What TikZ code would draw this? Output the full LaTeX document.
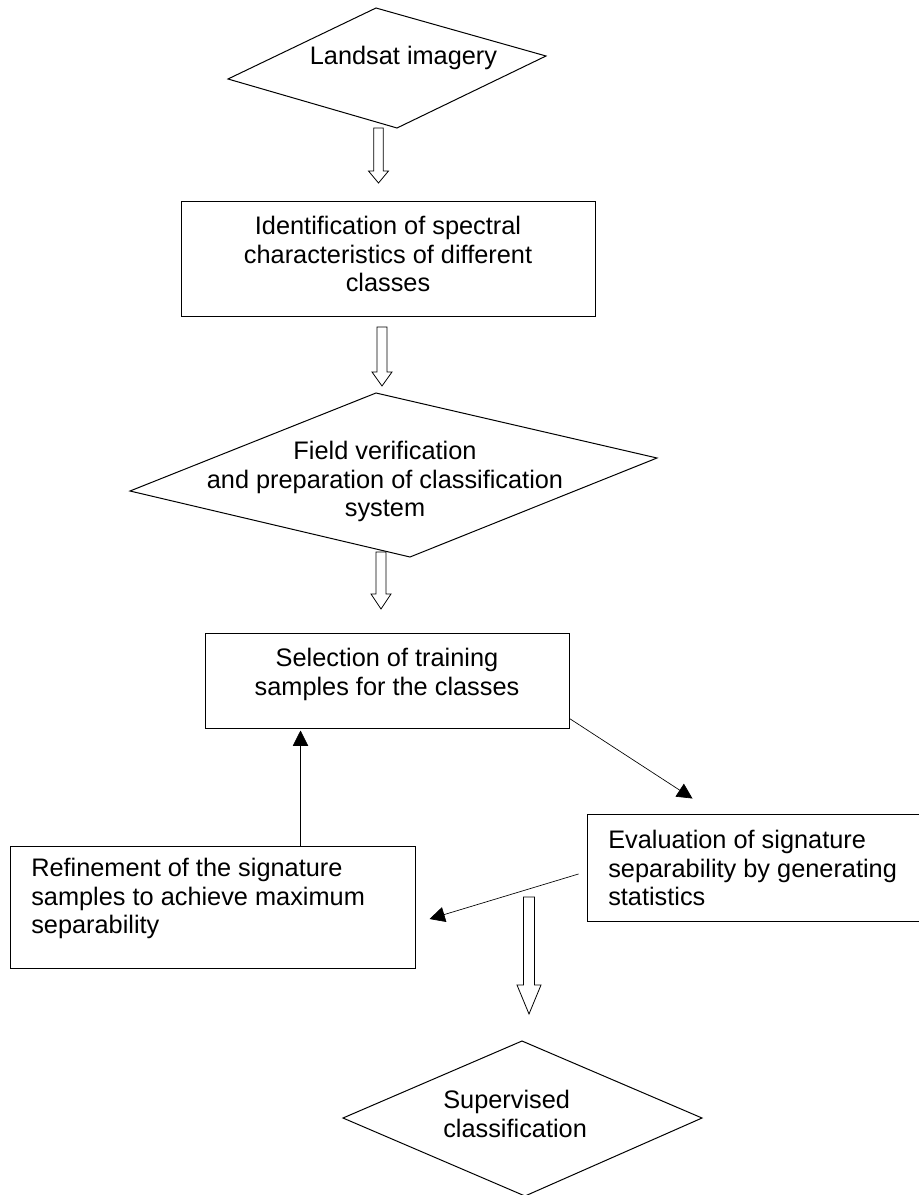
\documentclass[tikz,border=0pt]{standalone}
\usepackage{fontspec}
\setmainfont{Liberation Sans}
\usetikzlibrary{arrows.meta,calc,fit}

% block arrow pointing down: centre x, shaft top, head start, tip, shaft half width, head half width
\newcommand\hollowdown[6]{%
  \draw[hollow] (#1-#5,#2) -- (#1+#5,#2) -- (#1+#5,#3) -- (#1+#6,#3) -- (#1,#4)
    -- (#1-#6,#3) -- (#1-#5,#3) -- cycle;}

\begin{document}
\begin{tikzpicture}[x=0.75pt,y=-0.75pt,
  outline/.style={draw=black,line width=0.75pt,line join=miter},
  box/.style={outline,inner sep=0pt},
  txt/.style={font=\fontsize{19}{21.4}\selectfont,inner sep=0pt,align=center},
  ltxt/.style={txt,align=left,anchor=west},
  link/.style={draw=black,line width=0.5pt,-{Triangle[length=11.5pt,width=11.5pt]}},
  hollow/.style={draw=black,line width=0.6pt,fill=white,line join=miter}]

\useasboundingbox (0,0) rectangle (919,1195);

% decision shapes
\draw[outline] (376,8) coordinate (d1n) -- (546,56) coordinate (d1e)
  -- (397,128) coordinate (d1s) -- (228,79) coordinate (d1w) -- cycle;
\draw[outline] (376,393) coordinate (d2n) -- (657,458) coordinate (d2e)
  -- (410,557) coordinate (d2s) -- (130,491) coordinate (d2w) -- cycle;
\draw[outline] (522,1041) coordinate (d3n) -- (702,1118) coordinate (d3e)
  -- (525,1196) coordinate (d3s) -- (343,1118) coordinate (d3w) -- cycle;

% process boxes
\coordinate (b1a) at (181,201); \coordinate (b1b) at (595,316);
\coordinate (b2a) at (205,633); \coordinate (b2b) at (569,728);
\coordinate (b3a) at (587,814); \coordinate (b3b) at (925,921);
\coordinate (b4a) at (10,846);  \coordinate (b4b) at (415,968);
\node[box,fit=(b1a)(b1b)] (b1) {};
\node[box,fit=(b2a)(b2b)] (b2) {};
\node[box,fit=(b3a)(b3b)] (b3) {};
\node[box,fit=(b4a)(b4b)] (b4) {};

% labels
\node[txt] (l1) at (403.5,58.4) {Landsat imagery};
\node[txt] (l2) at (388,254.3) {Identification of spectral\\characteristics of different\\classes};
\node[txt] (l3) at (385,481.9) {Field verification\\and preparation of classification\\system};
\node[txt] (l4) at (387,674.6) {Selection of training\\samples for the classes};
\node[ltxt] (l5) at (608,868.3) {Evaluation of signature\\separability by generating\\statistics};
\node[ltxt] (l6) at (31,898.9) {Refinement of the signature\\samples to achieve maximum\\separability};
\node[ltxt] (l7) at (443,1114) {Supervised\\classification};

% block arrows of the main sequence
\hollowdown{378.5}{128}{171}{183}{4.75}{10}
\hollowdown{382}{327}{372}{386}{5}{10}
\hollowdown{381}{552}{594}{609}{5}{10}
\hollowdown{529}{897}{985}{1014}{5.5}{12}

% feedback loop
\coordinate (t1tip) at ($(b3.north west)+(106,-15)$);
\coordinate (t2tip) at ($(b4.east)+(14,12)$);
\draw[link] ($(b2.south east)+(0,-10)$) -- (t1tip);
\draw[link] ($(b3.west)+(-8,6.5)$) -- (t2tip);
\draw[link] ($(b4.north west)+(291,0)$) -- ($(b2.south west)+(96,2)$);

\end{tikzpicture}
\end{document}
